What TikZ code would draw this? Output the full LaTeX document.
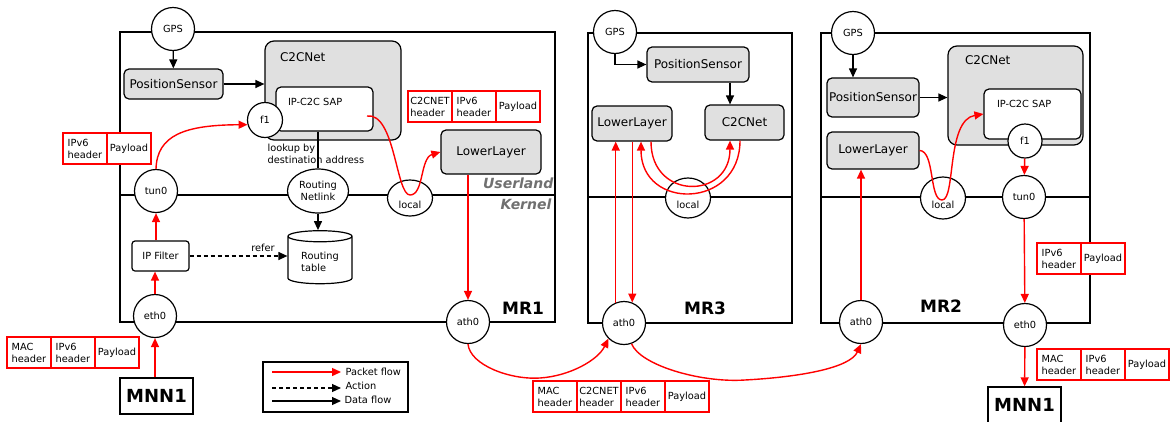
\documentclass[tikz,border=0pt]{standalone}
\usepackage{fontspec}
\setmainfont{DejaVu Sans}
\usetikzlibrary{arrows.meta,positioning,shapes.geometric}
\definecolor{boxgray}{RGB}{224,224,224}
\definecolor{layergray}{RGB}{112,112,112}
\newcommand{\fsmall}{\fontsize{9.8}{12}\selectfont}
\newcommand{\fmid}{\fontsize{12}{14}\selectfont}
\newcommand{\fbig}{\fontsize{17}{20}\selectfont\bfseries}
\newcommand{\fhost}{\fontsize{18}{21}\selectfont\bfseries}
\newcommand{\flayer}{\fontsize{14}{16}\selectfont\bfseries\itshape}

\begin{document}
\begin{tikzpicture}[
  x=1pt,y=-1pt,
  line width=1.2pt,
  frame/.style={draw,line width=1.3pt},
  gpsnode/.style={circle,draw,fill=white,minimum size=43pt,inner sep=0pt,font=\fsmall},
  iface/.style={circle,draw,fill=white,minimum size=43pt,inner sep=0pt,font=\fsmall},
  localnode/.style={ellipse,draw,fill=white,minimum width=45pt,minimum height=38pt,inner sep=0pt,text height=21pt,text depth=0pt,font=\fsmall},
  netlink/.style={ellipse,draw,fill=white,minimum width=61pt,minimum height=44pt,inner sep=0pt,align=center,font=\fsmall},
  module/.style={draw,rounded corners=5pt,fill=boxgray,inner sep=0pt,font=\fmid},
  c2cbox/.style={draw,rounded corners=9pt,fill=boxgray},
  sapbox/.style={draw,rounded corners=5pt,fill=white},
  boxlabel/.style={anchor=north west,inner sep=0pt},
  filt/.style={draw,rounded corners=3pt,fill=white,minimum width=57pt,minimum height=30pt,font=\fsmall},
  dbase/.style={cylinder,shape border rotate=90,aspect=0.25,draw,fill=white,minimum width=64pt,minimum height=53pt,align=left,font=\fsmall},
  host/.style={draw,line width=1.3pt,fill=white,minimum width=73pt,minimum height=36pt,font=\fhost},
  cell/.style={draw=red,fill=white,minimum width=44pt,minimum height=31pt,inner sep=1pt,outer sep=0pt,align=left,font=\fsmall},
  mrlabel/.style={font=\fbig},
  layer/.style={font=\flayer,text=layergray,inner sep=0pt},
  note/.style={font=\fsmall,align=left,inner sep=0pt},
  pflow/.style={-{Triangle[length=9pt,width=8pt]},red,line width=1.4pt},
  dflow/.style={-{Triangle[length=9pt,width=8pt]}},
  aflow/.style={-{Triangle[length=9pt,width=8pt]},dash pattern=on 4pt off 3pt}
]
\useasboundingbox (0,0) rectangle (1171,421);

% router frames
\draw[frame] (120,32) rectangle (555,322);
\draw[frame] (120,195) -- (555,195);
\draw[frame] (588,33) rectangle (792,323);
\draw[frame] (588,197) -- (792,197);
\draw[frame] (821,33) rectangle (1090,323);
\draw[frame] (821,197) -- (1090,197);

% MR1
\node[gpsnode] (gps1) at (173,29) {GPS};
\node[module,minimum width=99pt,minimum height=30pt] (ps1) at (173.5,84) {PositionSensor};
\node[c2cbox,minimum width=136pt,minimum height=99pt,
  label={[boxlabel,xshift=15pt,yshift=-12pt,font=\fmid]north west:C2CNet}] (c2c1) at (333,90.5) {};
\node[sapbox,minimum width=97pt,minimum height=44pt,
  label={[boxlabel,xshift=12pt,yshift=-11pt,font=\fsmall]north west:IP-C2C SAP}] (sap1) at (324.5,109) {};
\node[iface,minimum size=35pt] (f1a) at (265,120) {f1};
\node[module,minimum width=100pt,minimum height=44pt] (ll1) at (491,152) {LowerLayer};
\node[netlink] (nl1) at (318,191) {Routing\\Netlink};
\node[iface] (tun0a) at (156,191) {tun0};
\node[localnode,minimum height=36pt] (loc1) at (410,198) {local};
\node[filt] (ipf1) at (160.5,256) {IP Filter};
\node[dbase] (rt1) at (320,261.5) {Routing\\table};
\node[iface] (eth0a) at (155,316) {eth0};
\node[iface] (ath0a) at (468,322) {ath0};
\node[host] (mnn1a) at (156.5,396) {MNN1};
\node[mrlabel] (mr1) at (523,308) {MR1};
\node[layer,anchor=east] (user1) at (554,183) {Userland};
\node[layer,anchor=east] (kern1) at (552,204) {Kernel};
\node[note,anchor=north west] (lookup) at (267,143) {lookup by\\destination address};
\coordinate (sapout1) at (367,116);

\draw[dflow] (gps1) -- (ps1);
\draw[dflow] (ps1.east) -- (ps1.east -| c2c1.west);
\draw (nl1 |- sap1.south) -- (nl1.north);
\draw[dflow] (nl1.south) -- (nl1.south |- rt1.north);
\draw[aflow] (ipf1.east) -- (ipf1.east -| rt1.west) node[pos=0.75,above,font=\fsmall] (refer) {refer};
\draw[pflow] (eth0a) -- (eth0a |- ipf1.south);
\draw[pflow] (ipf1.north -| tun0a) -- (tun0a);
\draw[pflow] (mnn1a.north -| eth0a) -- (eth0a);
\draw[pflow] (tun0a.north) .. controls (157,135) and (185,125) .. (f1a.195);
\draw[pflow] (sapout1) .. controls (395,112) and (396,195) .. (410,195) .. controls (424,195) and (420,158) .. (ll1.west);
\draw[pflow] (ath0a |- ll1.south) -- (ath0a);

% MR3
\node[gpsnode] (gps3) at (615,32) {GPS};
\node[module,minimum width=102pt,minimum height=35pt] (ps3) at (698,64.5) {PositionSensor};
\node[module,minimum width=80pt,minimum height=35pt] (ll3) at (632,123.5) {LowerLayer};
\node[module,minimum width=79pt,minimum height=35pt] (c2c3) at (744.5,122.5) {C2CNet};
\node[localnode,minimum height=40pt] (loc3) at (688,198) {local};
\node[iface] (ath0c) at (624,323) {ath0};
\node[mrlabel] (mr3) at (705,308) {MR3};

\draw[dflow] (gps3.south) |- (ps3.west);
\draw[dflow] ([xshift=32pt]ps3.south) -- ([xshift=32pt]ps3.south |- c2c3.north);
\draw[pflow] (ath0c.112) -- (ath0c.112 |- ll3.south);
\draw[pflow] (ath0c.68 |- ll3.south) -- (ath0c.68);
\draw[pflow] ([xshift=19pt]ll3.south) .. controls +(0,59) and +(0,59) .. ([xshift=-14.5pt]c2c3.south);
\draw[pflow] ([xshift=-4.5pt]c2c3.south) .. controls +(0,69) and +(0,69) .. ([xshift=9pt]ll3.south);

% MR2
\node[gpsnode] (gps2) at (853,33) {GPS};
\node[module,minimum width=92pt,minimum height=39pt] (ps2) at (873,97.5) {PositionSensor};
\node[c2cbox,minimum width=135pt,minimum height=99pt,
  label={[boxlabel,xshift=17pt,yshift=-10pt,font=\fmid]north west:C2CNet}] (c2c2) at (1015.5,95.5) {};
\node[sapbox,minimum width=97pt,minimum height=50pt,
  label={[boxlabel,xshift=13pt,yshift=-11pt,font=\fsmall]north west:IP-C2C SAP}] (sap2) at (1032.5,114) {};
\node[iface,minimum size=34pt] (f1b) at (1025,141) {f1};
\node[module,minimum width=92pt,minimum height=37pt] (ll2) at (873,150.5) {LowerLayer};
\node[localnode,minimum height=42pt] (loc2) at (943,198) {local};
\node[iface] (tun0b) at (1024,197) {tun0};
\node[iface] (eth0b) at (1025,325) {eth0};
\node[iface] (ath0b) at (861,322) {ath0};
\node[host] (mnn1b) at (1024.5,405) {MNN1};
\node[mrlabel] (mr2) at (941,306) {MR2};

\draw[dflow] (gps2) -- (gps2 |- ps2.north);
\draw[dflow] (ps2.east) -- (ps2.east -| c2c2.west);
\draw[pflow] (ll2.east) .. controls (935,151) and (929,200) .. (942,200) .. controls (956,200) and (946,120) .. (sap2.west);
\draw[pflow] (f1b) -- (tun0b);
\draw[pflow] (tun0b) -- (eth0b);
\draw[pflow] (eth0b) -- (mnn1b);
\draw[pflow] (ath0b) -- (ath0b |- ll2.south);

% radio links
\draw[pflow] (ath0a.south) .. controls (470,365) and (510,380) .. (540,378) .. controls (570,376) and (598,360) .. (ath0c.south west);
\draw[pflow] (ath0c.-70) .. controls (640,365) and (700,383) .. (745,380) .. controls (800,377) and (850,368) .. (ath0b.south);

% packets
\node[cell,anchor=north west] (pa1) at (63,133) {IPv6\\header};
\node[cell,right=0pt of pa1] (pa2) {Payload};
\node[cell,anchor=north west] (pb1) at (7,337) {MAC\\header};
\node[cell,right=0pt of pb1] (pb2) {IPv6\\header};
\node[cell,right=0pt of pb2] (pb3) {Payload};
\node[cell,anchor=north west] (pc1) at (408,91) {C2CNET\\header};
\node[cell,right=0pt of pc1] (pc2) {IPv6\\header};
\node[cell,right=0pt of pc2] (pc3) {Payload};
\node[cell,anchor=north west] (pd1) at (533,381) {MAC\\header};
\node[cell,right=0pt of pd1] (pd2) {C2CNET\\header};
\node[cell,right=0pt of pd2] (pd3) {IPv6\\header};
\node[cell,right=0pt of pd3] (pd4) {Payload};
\node[cell,anchor=north west] (pe1) at (1037,243) {IPv6\\header};
\node[cell,right=0pt of pe1] (pe2) {Payload};
\node[cell,anchor=north west] (pf1) at (1037,349) {MAC\\header};
\node[cell,right=0pt of pf1] (pf2) {IPv6\\header};
\node[cell,right=0pt of pf2] (pf3) {Payload};

% legend
\node[draw,minimum width=145pt,minimum height=50pt] (legend) at (335.5,387) {};
\coordinate (lgPa) at (272,372); \coordinate (lgPb) at (341,372);
\coordinate (lgAa) at (272,388); \coordinate (lgAb) at (341,388);
\coordinate (lgDa) at (272,401); \coordinate (lgDb) at (341,401);
\draw[pflow] (lgPa) -- (lgPb);
\draw[aflow] (lgAa) -- (lgAb);
\draw[dflow] (lgDa) -- (lgDb);
\node[note,anchor=west] (lgPt) at (345,372) {Packet flow};
\node[note,anchor=west] (lgAt) at (345,386) {Action};
\node[note,anchor=west] (lgDt) at (344,400) {Data flow};
\end{tikzpicture}
\end{document}
